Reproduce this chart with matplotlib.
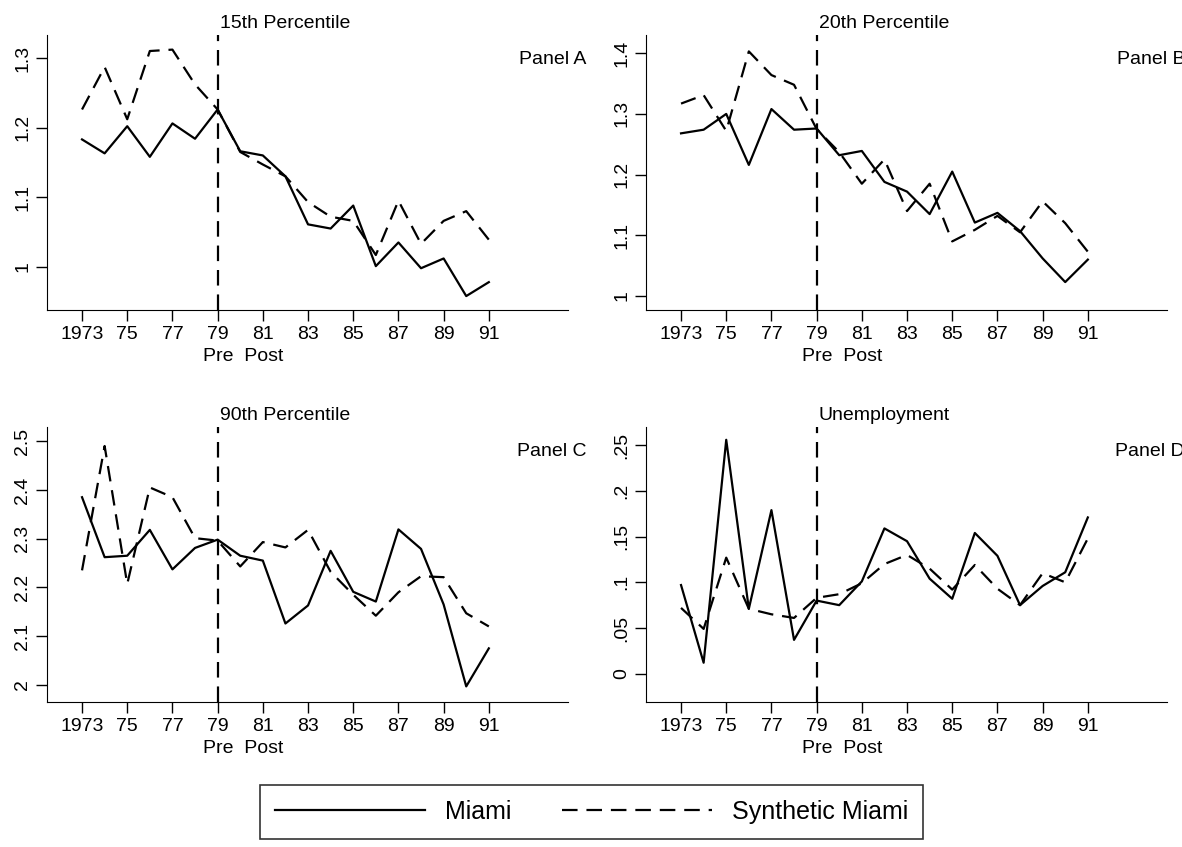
import matplotlib
matplotlib.use("Agg")
import matplotlib.pyplot as plt

plt.rcParams['font.family'] = ['Liberation Sans', 'DejaVu Sans']

years = list(range(1973, 1992))
titles = ["15th Percentile", "20th Percentile", "90th Percentile", "Unemployment"]
panels = ["Panel A", "Panel B", "Panel C", "Panel D"]
miami_a = [1.183,1.163,1.202,1.158,1.206,1.184,1.226,1.166,1.160,1.130,1.061,1.055,1.088,1.001,1.035,0.998,1.012,0.958,0.978]
synth_a = [1.226,1.287,1.212,1.310,1.312,1.262,1.226,1.165,1.147,1.130,1.093,1.072,1.066,1.017,1.095,1.033,1.066,1.080,1.039]
miami_b = [1.268,1.274,1.300,1.216,1.308,1.274,1.276,1.232,1.239,1.188,1.172,1.135,1.205,1.121,1.137,1.107,1.062,1.023,1.060]
synth_b = [1.317,1.331,1.272,1.403,1.364,1.348,1.275,1.237,1.185,1.225,1.140,1.185,1.090,1.109,1.132,1.105,1.156,1.120,1.073]
miami_c = [2.385,2.262,2.265,2.318,2.237,2.281,2.298,2.265,2.255,2.126,2.163,2.275,2.191,2.171,2.319,2.279,2.165,1.997,2.075]
synth_c = [2.235,2.490,2.207,2.405,2.385,2.301,2.296,2.243,2.293,2.282,2.318,2.232,2.185,2.142,2.190,2.223,2.221,2.147,2.120]
miami_d = [.097,.012,.256,.071,.179,.037,.080,.075,.101,.159,.145,.104,.082,.154,.129,.075,.096,.111,.171]
synth_d = [.072,.049,.127,.071,.065,.061,.083,.087,.099,.120,.130,.115,.092,.119,.093,.075,.110,.100,.148]
xticks = [1973,1975,1977,1979,1981,1983,1985,1987,1989,1991]
xticklabels = ["1973","75","77","79","81","83","85","87","89","91"]
yticks_list = [[1.0,1.1,1.2,1.3],[1.0,1.1,1.2,1.3,1.4],[2.0,2.1,2.2,2.3,2.4,2.5],[0,.05,.1,.15,.2,.25]]
ylabels_list = [["1","1.1","1.2","1.3"],["1","1.1","1.2","1.3","1.4"],
                ["2","2.1","2.2","2.3","2.4","2.5"],["0",".05",".1",".15",".2",".25"]]
ylims = [(0.938,1.333),(0.977,1.430),(1.965,2.529),(-0.031,0.270)]
data = [(miami_a,synth_a),(miami_b,synth_b),(miami_c,synth_c),(miami_d,synth_d)]

W, H = 1182, 847
fig = plt.figure(figsize=(W/100, H/100), dpi=100)
x0 = 1971.45
ppy = 22.6
width_px = (1994.5 - x0) * ppy
boxes = [(47,35),(646,35),(47,427),(646,427)]
for i,(lx,ty) in enumerate(boxes):
    ax = fig.add_axes([lx/W, 1-(ty+275)/H, width_px/W, 275/H])
    m, s = data[i]
    ax.plot(years, m, color='black', lw=1.6, label='Miami')
    ax.plot(years, s, color='black', lw=1.6, dashes=(7,4), label='Synthetic Miami')
    ax.axvline(1979, color='black', lw=1.6, dashes=(7,4))
    ax.set_xlim(x0, 1994.5)
    ax.set_ylim(*ylims[i])
    ax.set_xticks(xticks)
    ax.set_xticklabels(xticklabels, fontsize=14)
    ax.set_yticks(yticks_list[i])
    ax.set_yticklabels(ylabels_list[i], fontsize=14, rotation=90, va='center')
    for sp in ['top','right']:
        ax.spines[sp].set_visible(False)
    ax.tick_params(length=8, width=1, direction='out')
    ax.text(1979.1, 1.01, titles[i], transform=ax.get_xaxis_transform(), fontsize=14, va='bottom', ha='left')
    ax.text(1995.3, 0.91, panels[i], transform=ax.get_xaxis_transform(), fontsize=14, va='center', ha='right')
    ax.text(1980.15, -0.17, "Pre  Post", transform=ax.get_xaxis_transform(), fontsize=14, va='center', ha='center')
    if i == 0:
        handles, labels = ax.get_legend_handles_labels()

leg = fig.legend(handles, labels, loc='center', bbox_to_anchor=((265+918)/2/W, 1-812/H),
                 ncol=2, fontsize=18, frameon=True, fancybox=False, edgecolor='black',
                 handlelength=6, columnspacing=2, borderpad=0.6)
leg.get_frame().set_linewidth(1.2)
fig.savefig("out.png", dpi=100)
